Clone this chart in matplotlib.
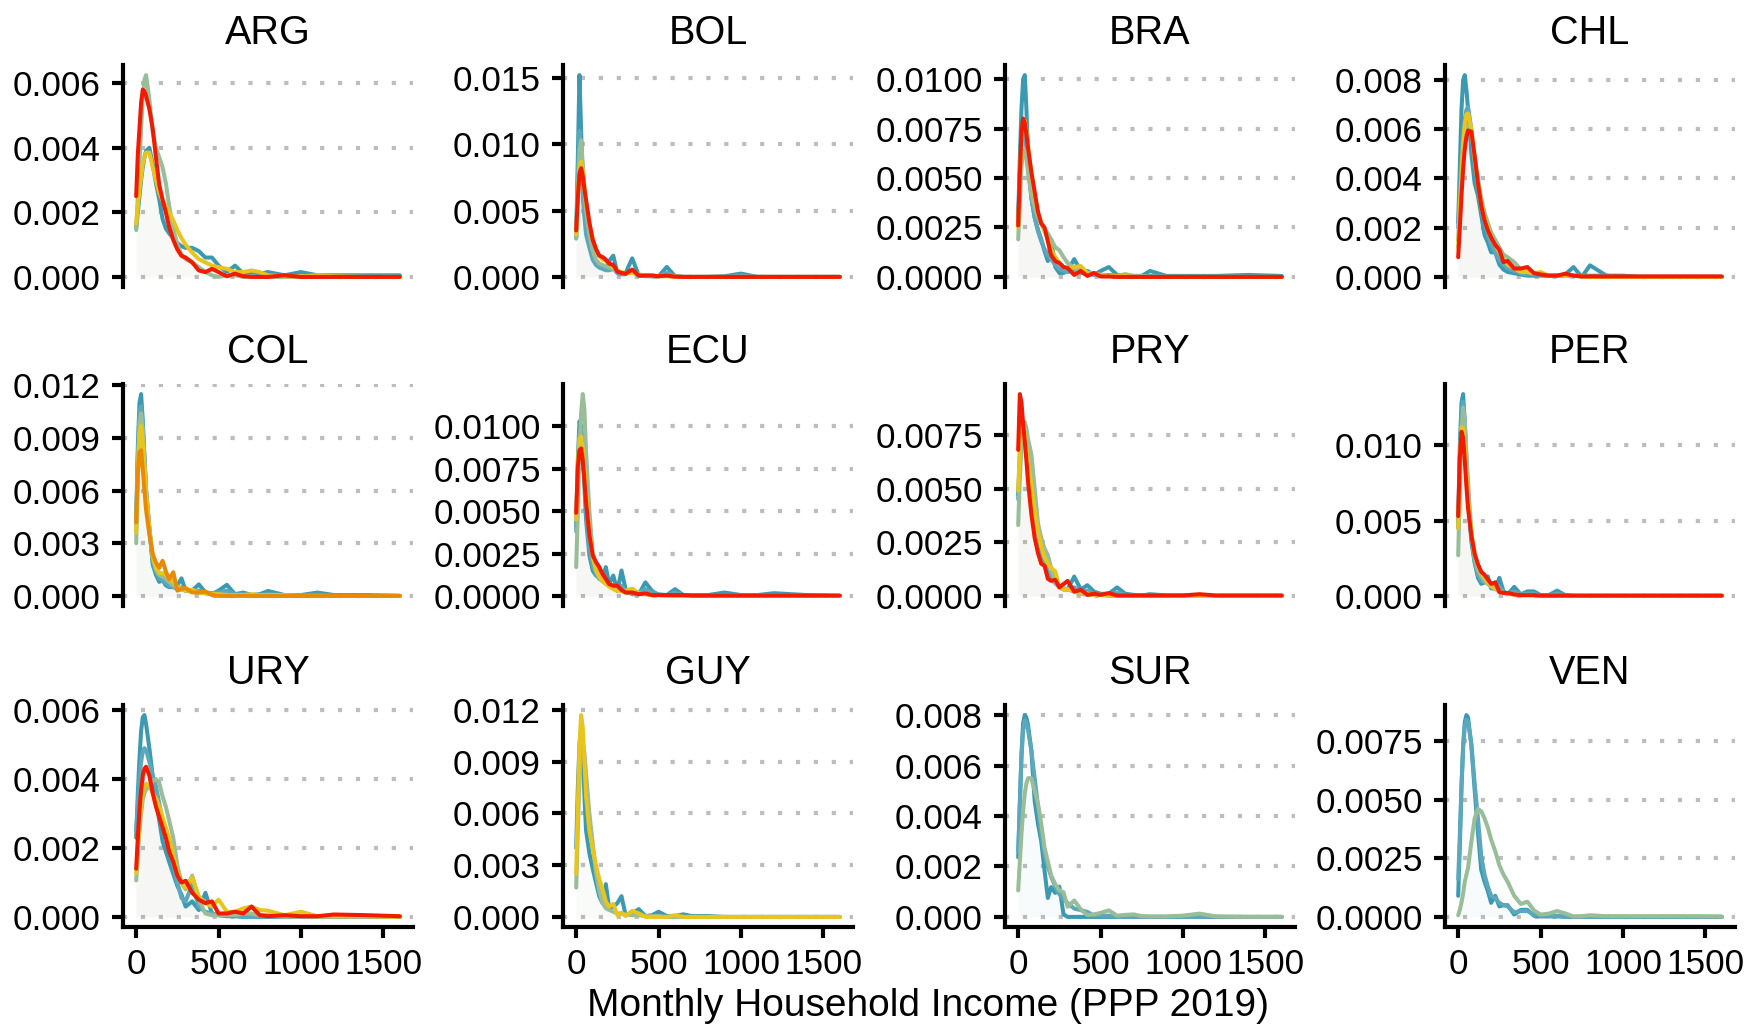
import numpy as np
import matplotlib
matplotlib.use("Agg")
import matplotlib.pyplot as plt

plt.rcParams["font.family"] = ["Liberation Sans", "DejaVu Sans"]

# income grid (PPP 2019) shared by every density curve
INCOME = [0, 10, 20, 30, 40, 50, 60, 80, 100, 120, 140, 160, 180, 200, 225, 250, 275,
          300, 340, 380, 420, 460, 500, 550, 600, 650, 700, 750, 800, 900, 1000, 1100,
          1200, 1400, 1600]

# densities, in units of 1e-3, oldest survey first
ARG = {
    "teal": [1.5, 2.0, 2.5, 3.0, 3.4, 3.7, 3.9, 4.0, 3.5, 2.9, 2.4, 1.8, 1.5, 1.35, 1.2, 1.05, 0.95, 0.9, 0.9, 0.8, 0.6, 0.6, 0.35, 0.15, 0.35, 0.1, 0.1, 0.1, 0.15, 0.05, 0.15, 0.05, 0.05, 0.05, 0.05],
    "green": [1.45, 2.5, 3.5, 4.6, 5.6, 6.1, 6.25, 5.5, 4.5, 4.0, 3.7, 3.4, 2.9, 2.2, 1.5, 1.0, 0.7, 0.55, 0.45, 0.3, 0.15, 0.05, 0.0, 0.05, 0.05, 0.0, 0.02, 0.0, 0.0, 0.0, 0.0, 0.0, 0.0, 0.0, 0.0],
    "yellow": [1.65, 2.2, 2.7, 3.1, 3.5, 3.7, 3.85, 3.85, 3.4, 3.0, 2.6, 2.35, 2.2, 2.0, 1.75, 1.45, 1.2, 1.0, 0.75, 0.55, 0.45, 0.35, 0.3, 0.25, 0.15, 0.15, 0.2, 0.15, 0.05, 0.02, 0.02, 0.05, 0.02, 0.0, 0.0],
    "red": [2.5, 3.8, 4.6, 5.4, 5.8, 5.75, 5.6, 5.2, 4.6, 3.7, 2.85, 2.4, 2.0, 1.55, 1.15, 0.85, 0.65, 0.6, 0.45, 0.2, 0.15, 0.25, 0.15, 0.02, 0.1, 0.02, 0.0, 0.0, 0.0, 0.05, 0.0, 0.0, 0.0, 0.0, 0.0],
}
BOL = {
    "teal": [2.9, 9.0, 15.2, 11.0, 6.8, 5.0, 3.8, 2.6, 1.6, 1.0, 0.8, 0.7, 0.6, 1.2, 1.6, 0.3, 0.2, 0.3, 1.4, 0.1, 0.1, 0.1, 0.05, 0.75, 0.05, 0.0, 0.0, 0.0, 0.0, 0.05, 0.25, 0.0, 0.0, 0.0, 0.0],
    "lightteal": [3.0, 7.5, 11.0, 9.5, 6.0, 4.5, 3.2, 2.2, 1.3, 0.9, 0.7, 0.6, 0.5, 0.5, 0.6, 0.3, 0.2, 0.2, 0.5, 0.1, 0.05, 0.05, 0.05, 0.3, 0.05, 0.0, 0.0, 0.0, 0.0, 0.0, 0.1, 0.0, 0.0, 0.0, 0.0],
    "green": [2.9, 6.5, 9.5, 10.3, 8.5, 6.5, 5.0, 3.2, 2.0, 1.3, 1.0, 0.9, 0.8, 0.7, 0.6, 0.4, 0.3, 0.3, 0.3, 0.15, 0.1, 0.05, 0.05, 0.1, 0.05, 0.0, 0.0, 0.0, 0.0, 0.0, 0.0, 0.0, 0.0, 0.0, 0.0],
    "yellow": [3.2, 6.0, 8.2, 8.7, 8.0, 6.8, 5.6, 4.0, 2.9, 2.1, 1.6, 1.3, 1.2, 1.0, 0.7, 0.5, 0.35, 0.3, 0.3, 0.2, 0.1, 0.1, 0.05, 0.05, 0.02, 0.0, 0.0, 0.0, 0.0, 0.0, 0.0, 0.0, 0.0, 0.0, 0.0],
    "red": [3.5, 6.0, 7.8, 8.2, 7.6, 6.6, 5.8, 4.1, 2.8, 2.1, 1.6, 1.5, 1.3, 1.0, 0.9, 0.4, 0.3, 0.25, 0.55, 0.1, 0.1, 0.1, 0.05, 0.1, 0.02, 0.0, 0.0, 0.0, 0.0, 0.0, 0.0, 0.0, 0.0, 0.0, 0.0],
}
BRA = {
    "teal": [3.1, 6.0, 8.5, 10.0, 10.2, 8.5, 6.2, 4.0, 3.0, 2.4, 1.9, 1.3, 0.8, 1.9, 0.5, 0.2, 0.2, 0.3, 0.9, 0.3, 0.3, 0.1, 0.3, 0.5, 0.1, 0.05, 0.05, 0.05, 0.3, 0.05, 0.05, 0.05, 0.05, 0.1, 0.05],
    "lightteal": [2.8, 5.0, 6.8, 7.5, 7.3, 6.5, 5.5, 4.0, 3.0, 2.3, 1.8, 1.4, 1.1, 0.9, 0.6, 0.4, 0.3, 0.25, 0.3, 0.2, 0.15, 0.1, 0.1, 0.1, 0.05, 0.05, 0.0, 0.0, 0.05, 0.0, 0.0, 0.0, 0.0, 0.0, 0.0],
    "green": [1.9, 3.8, 5.6, 6.3, 6.4, 6.0, 5.3, 4.2, 3.5, 3.0, 2.7, 2.4, 2.2, 1.9, 1.5, 1.35, 1.0, 0.7, 0.45, 0.3, 0.2, 0.15, 0.1, 0.05, 0.05, 0.14, 0.05, 0.05, 0.0, 0.0, 0.0, 0.0, 0.0, 0.0, 0.0],
    "yellow": [2.5, 5.0, 7.0, 7.8, 7.9, 7.4, 6.6, 5.2, 4.1, 3.2, 2.7, 2.3, 1.9, 1.4, 1.0, 0.7, 0.5, 0.45, 0.5, 0.55, 0.2, 0.15, 0.1, 0.05, 0.05, 0.05, 0.0, 0.0, 0.0, 0.0, 0.0, 0.0, 0.0, 0.0, 0.0],
    "red": [2.6, 5.2, 7.3, 8.0, 7.8, 7.2, 6.5, 5.3, 4.3, 3.3, 2.7, 2.5, 1.8, 1.1, 0.8, 0.7, 0.5, 0.45, 0.1, 0.3, 0.05, 0.2, 0.02, 0.02, 0.0, 0.0, 0.0, 0.0, 0.0, 0.0, 0.0, 0.0, 0.0, 0.0, 0.0],
}
CHL = {
    "teal": [2.2, 4.5, 6.8, 8.0, 8.2, 7.6, 6.8, 5.0, 3.8, 3.3, 2.5, 1.7, 1.4, 1.0, 1.0, 0.5, 0.3, 0.2, 0.15, 0.1, 0.05, 0.05, 0.05, 0.05, 0.05, 0.1, 0.4, 0.0, 0.47, 0.05, 0.05, 0.0, 0.0, 0.0, 0.0],
    "lightteal": [2.0, 3.5, 4.8, 5.8, 6.4, 6.8, 6.9, 6.0, 4.6, 3.6, 2.8, 2.2, 1.7, 1.3, 1.0, 0.7, 0.5, 0.35, 0.25, 0.15, 0.1, 0.1, 0.1, 0.05, 0.05, 0.05, 0.05, 0.05, 0.05, 0.05, 0.0, 0.0, 0.0, 0.0, 0.0],
    "green": [1.5, 2.8, 4.0, 5.0, 5.7, 6.1, 6.2, 5.8, 4.9, 4.0, 3.2, 2.6, 2.2, 1.8, 1.5, 1.2, 0.9, 0.8, 0.6, 0.3, 0.2, 0.15, 0.1, 0.05, 0.05, 0.05, 0.05, 0.02, 0.0, 0.0, 0.0, 0.0, 0.0, 0.0, 0.0],
    "yellow": [1.2, 2.8, 4.2, 5.4, 6.2, 6.6, 6.65, 6.0, 4.8, 3.8, 3.0, 2.4, 2.0, 1.6, 1.3, 1.0, 0.7, 0.5, 0.35, 0.2, 0.2, 0.15, 0.2, 0.05, 0.05, 0.05, 0.05, 0.02, 0.0, 0.0, 0.0, 0.0, 0.0, 0.0, 0.0],
    "red": [0.8, 2.0, 3.3, 4.4, 5.2, 5.7, 5.95, 5.9, 4.9, 3.8, 2.9, 2.3, 1.9, 1.6, 1.3, 1.1, 0.6, 0.65, 0.34, 0.34, 0.4, 0.15, 0.1, 0.05, 0.05, 0.13, 0.05, 0.02, 0.02, 0.02, 0.02, 0.02, 0.02, 0.02, 0.02],
}
COL = {
    "teal": [4.5, 8.5, 11.0, 11.5, 10.0, 8.0, 6.0, 3.9, 1.8, 1.2, 0.8, 0.9, 0.6, 0.5, 0.5, 0.6, 1.0, 0.3, 0.3, 0.66, 0.2, 0.1, 0.3, 0.63, 0.1, 0.19, 0.05, 0.1, 0.28, 0.05, 0.05, 0.19, 0.05, 0.05, 0.0],
    "lightteal": [4.0, 8.0, 10.5, 10.8, 9.5, 7.8, 6.0, 3.8, 2.0, 1.4, 1.0, 0.9, 0.7, 0.6, 0.5, 0.4, 0.5, 0.3, 0.25, 0.3, 0.2, 0.15, 0.2, 0.3, 0.1, 0.1, 0.05, 0.05, 0.1, 0.05, 0.05, 0.05, 0.0, 0.0, 0.0],
    "green": [3.0, 7.0, 9.8, 10.4, 9.5, 7.8, 6.0, 3.8, 2.2, 1.5, 1.2, 1.1, 1.0, 0.8, 0.6, 0.45, 0.35, 0.3, 0.25, 0.2, 0.15, 0.1, 0.05, 0.05, 0.05, 0.05, 0.0, 0.0, 0.0, 0.0, 0.0, 0.0, 0.0, 0.0, 0.0],
    "yellow": [3.6, 7.2, 9.3, 9.7, 8.8, 7.4, 5.8, 3.8, 2.3, 1.6, 1.3, 1.3, 1.2, 1.0, 0.8, 0.55, 0.4, 0.3, 0.35, 0.2, 0.15, 0.1, 0.1, 0.05, 0.05, 0.05, 0.1, 0.05, 0.05, 0.05, 0.0, 0.0, 0.0, 0.0, 0.0],
    "orange": [4.2, 7.0, 8.2, 8.3, 7.2, 6.0, 4.9, 3.5, 2.4, 1.9, 1.6, 2.0, 1.4, 0.95, 1.35, 0.3, 0.4, 0.45, 0.2, 0.2, 0.25, 0.05, 0.0, 0.0, 0.0, 0.0, 0.0, 0.0, 0.0, 0.0, 0.0, 0.0, 0.0, 0.0, 0.0],
}
ECU = {
    "teal": [4.1, 8.0, 10.3, 10.0, 8.5, 6.5, 4.5, 2.4, 1.5, 1.2, 1.1, 1.0, 1.7, 0.7, 1.2, 0.3, 1.5, 0.4, 0.1, 0.1, 0.8, 0.3, 0.05, 0.05, 0.4, 0.05, 0.05, 0.05, 0.05, 0.2, 0.05, 0.05, 0.16, 0.05, 0.0],
    "lightteal": [3.8, 7.2, 9.5, 9.8, 8.8, 7.0, 5.0, 2.8, 1.8, 1.3, 1.0, 0.9, 0.9, 0.6, 0.6, 0.4, 0.6, 0.3, 0.2, 0.2, 0.4, 0.2, 0.1, 0.05, 0.2, 0.05, 0.05, 0.05, 0.05, 0.05, 0.05, 0.05, 0.05, 0.0, 0.0],
    "green": [1.7, 5.0, 8.5, 10.8, 11.9, 11.0, 8.5, 5.0, 2.6, 1.7, 1.3, 1.0, 0.8, 0.7, 0.5, 0.4, 0.3, 0.2, 0.15, 0.1, 0.1, 0.05, 0.05, 0.05, 0.0, 0.0, 0.0, 0.0, 0.0, 0.0, 0.0, 0.0, 0.0, 0.0, 0.0],
    "yellow": [4.5, 7.8, 9.3, 9.4, 8.6, 7.4, 6.1, 3.8, 2.3, 1.5, 1.1, 0.85, 0.7, 0.55, 0.4, 0.3, 0.3, 0.3, 0.43, 0.15, 0.1, 0.05, 0.05, 0.0, 0.0, 0.0, 0.0, 0.0, 0.0, 0.0, 0.0, 0.0, 0.0, 0.0, 0.0],
    "red": [4.9, 7.6, 8.6, 8.7, 8.0, 6.8, 5.5, 3.6, 2.4, 2.0, 1.7, 1.3, 1.0, 0.7, 0.6, 0.6, 0.35, 0.2, 0.2, 0.1, 0.15, 0.05, 0.05, 0.05, 0.05, 0.05, 0.02, 0.02, 0.02, 0.02, 0.02, 0.02, 0.02, 0.02, 0.02],
}
PRY = {
    "teal": [4.7, 6.5, 7.6, 8.0, 8.0, 7.6, 7.0, 5.8, 4.2, 3.0, 2.1, 1.5, 1.1, 0.8, 0.6, 0.4, 0.3, 0.3, 0.9, 0.3, 0.5, 0.2, 0.1, 0.1, 0.4, 0.1, 0.05, 0.02, 0.08, 0.02, 0.02, 0.02, 0.0, 0.0, 0.0],
    "lightteal": [4.5, 6.2, 7.3, 7.8, 7.7, 7.4, 6.8, 5.5, 4.0, 2.9, 2.1, 1.5, 1.1, 0.8, 0.6, 0.45, 0.35, 0.3, 0.4, 0.2, 0.25, 0.1, 0.05, 0.05, 0.15, 0.05, 0.02, 0.02, 0.02, 0.0, 0.0, 0.0, 0.0, 0.0, 0.0],
    "green": [3.3, 5.5, 7.0, 7.8, 8.1, 7.8, 7.3, 6.6, 5.0, 3.4, 2.7, 2.2, 1.9, 1.3, 0.6, 0.45, 0.35, 0.3, 0.2, 0.1, 0.05, 0.05, 0.05, 0.0, 0.0, 0.0, 0.0, 0.0, 0.0, 0.0, 0.0, 0.0, 0.0, 0.0, 0.0],
    "yellow": [4.9, 6.9, 7.7, 7.85, 7.5, 6.9, 6.3, 5.2, 4.0, 3.0, 2.3, 1.8, 1.5, 1.3, 1.15, 0.4, 0.3, 0.3, 0.25, 0.15, 0.1, 0.05, 0.05, 0.05, 0.0, 0.0, 0.0, 0.0, 0.0, 0.0, 0.0, 0.0, 0.0, 0.0, 0.0],
    "red": [6.8, 9.4, 9.0, 8.0, 7.2, 6.3, 5.3, 3.8, 2.7, 2.0, 1.5, 1.4, 0.8, 0.7, 0.75, 0.4, 0.55, 0.7, 0.2, 0.28, 0.05, 0.1, 0.05, 0.13, 0.02, 0.02, 0.02, 0.02, 0.02, 0.02, 0.02, 0.08, 0.02, 0.02, 0.02],
}
PER = {
    "teal": [5.0, 10.0, 12.8, 13.4, 11.5, 8.8, 6.5, 3.6, 2.2, 1.2, 0.8, 0.9, 1.3, 0.5, 0.5, 1.2, 0.3, 0.1, 0.6, 0.1, 0.3, 0.3, 0.05, 0.05, 0.35, 0.05, 0.0, 0.0, 0.0, 0.0, 0.0, 0.0, 0.0, 0.0, 0.0],
    "lightteal": [4.5, 9.0, 12.0, 12.9, 11.5, 9.0, 6.8, 3.8, 2.3, 1.4, 1.0, 0.9, 0.9, 0.6, 0.5, 0.6, 0.3, 0.15, 0.3, 0.1, 0.15, 0.15, 0.05, 0.05, 0.15, 0.05, 0.0, 0.0, 0.0, 0.0, 0.0, 0.0, 0.0, 0.0, 0.0],
    "green": [2.7, 7.0, 10.8, 12.5, 11.5, 9.5, 7.5, 4.2, 2.5, 1.7, 1.3, 1.0, 0.8, 0.6, 0.45, 0.3, 0.2, 0.15, 0.1, 0.05, 0.05, 0.05, 0.0, 0.0, 0.0, 0.0, 0.0, 0.0, 0.0, 0.0, 0.0, 0.0, 0.0, 0.0, 0.0],
    "yellow": [4.5, 9.0, 11.2, 11.1, 9.8, 8.0, 6.5, 4.2, 2.8, 2.0, 1.5, 1.2, 0.9, 0.7, 0.5, 0.3, 0.2, 0.15, 0.1, 0.05, 0.05, 0.05, 0.0, 0.0, 0.0, 0.0, 0.0, 0.0, 0.0, 0.0, 0.0, 0.0, 0.0, 0.0, 0.0],
    "red": [5.3, 9.2, 10.9, 10.5, 9.0, 7.3, 5.8, 4.0, 2.8, 2.1, 1.6, 1.4, 1.1, 0.8, 0.9, 0.25, 0.2, 0.2, 0.1, 0.05, 0.05, 0.05, 0.02, 0.02, 0.02, 0.02, 0.02, 0.02, 0.02, 0.02, 0.02, 0.02, 0.02, 0.02, 0.02],
}
URY = {
    "teal": [2.3, 3.6, 4.6, 5.4, 5.8, 5.86, 5.6, 4.9, 4.1, 3.4, 2.8, 2.2, 1.9, 1.6, 1.25, 0.9, 0.65, 0.3, 0.45, 0.2, 0.7, 0.1, 0.05, 0.02, 0.02, 0.0, 0.0, 0.0, 0.0, 0.0, 0.0, 0.0, 0.0, 0.0, 0.0],
    "lightteal": [2.5, 3.3, 4.0, 4.5, 4.8, 4.9, 4.85, 4.5, 4.1, 3.8, 3.3, 2.8, 2.4, 2.0, 1.5, 1.0, 0.55, 0.45, 0.95, 0.3, 0.15, 0.1, 0.05, 0.05, 0.05, 0.0, 0.0, 0.0, 0.0, 0.0, 0.0, 0.0, 0.0, 0.0, 0.0],
    "green": [1.06, 1.8, 2.5, 3.0, 3.4, 3.6, 3.7, 3.8, 3.95, 4.0, 3.9, 3.5, 3.2, 2.8, 2.3, 1.5, 1.0, 0.8, 1.2, 0.5, 0.1, 0.05, 0.05, 0.05, 0.05, 0.1, 0.1, 0.05, 0.05, 0.0, 0.0, 0.0, 0.0, 0.0, 0.0],
    "yellow": [1.26, 2.0, 2.7, 3.2, 3.6, 3.8, 3.87, 3.8, 3.6, 3.45, 3.2, 2.9, 2.6, 2.3, 1.8, 1.3, 1.0, 0.85, 1.15, 0.6, 0.4, 0.3, 0.5, 0.15, 0.15, 0.25, 0.3, 0.2, 0.18, 0.05, 0.15, 0.02, 0.02, 0.02, 0.0],
    "red": [1.4, 2.3, 3.1, 3.7, 4.1, 4.3, 4.36, 4.1, 3.6, 3.2, 2.9, 2.6, 2.3, 1.9, 1.6, 1.2, 1.0, 1.05, 0.7, 0.5, 0.4, 0.45, 0.1, 0.1, 0.15, 0.1, 0.3, 0.05, 0.02, 0.05, 0.02, 0.02, 0.07, 0.05, 0.02],
}
GUY = {
    "teal": [4.0, 7.5, 10.0, 10.9, 9.5, 7.0, 5.0, 3.7, 2.8, 2.0, 1.2, 0.8, 1.9, 0.5, 0.6, 0.8, 1.2, 0.1, 0.2, 0.45, 0.05, 0.1, 0.3, 0.05, 0.05, 0.15, 0.05, 0.05, 0.05, 0.0, 0.0, 0.0, 0.0, 0.0, 0.0],
    "green": [1.7, 5.0, 8.0, 9.7, 10.1, 9.5, 8.3, 6.0, 4.3, 2.6, 1.5, 0.8, 0.5, 0.4, 0.3, 0.2, 0.2, 0.15, 0.1, 0.1, 0.05, 0.05, 0.05, 0.0, 0.0, 0.0, 0.0, 0.0, 0.0, 0.0, 0.0, 0.0, 0.0, 0.0, 0.0],
    "yellow": [2.5, 6.5, 10.0, 11.7, 11.0, 9.0, 7.0, 5.0, 4.0, 3.0, 2.2, 1.6, 0.9, 0.6, 0.75, 0.1, 0.25, 0.05, 0.35, 0.2, 0.0, 0.0, 0.0, 0.0, 0.1, 0.0, 0.0, 0.0, 0.0, 0.0, 0.0, 0.0, 0.0, 0.0, 0.0],
}
SUR = {
    "teal": [2.36, 4.5, 6.5, 7.7, 8.0, 7.9, 7.6, 6.6, 4.6, 3.7, 3.0, 1.84, 0.75, 1.18, 0.95, 1.2, 0.1, 0.0, 0.0, 0.0, 0.0, 0.0, 0.0, 0.0, 0.0, 0.0, 0.0, 0.0, 0.0, 0.0, 0.0, 0.0, 0.0, 0.0, 0.0],
    "lightteal": [2.6, 4.5, 6.3, 7.4, 7.8, 7.7, 7.4, 6.6, 5.5, 4.4, 3.3, 2.5, 2.0, 1.6, 1.2, 0.9, 0.7, 0.55, 0.33, 0.27, 0.2, 0.05, 0.05, 0.05, 0.0, 0.0, 0.0, 0.0, 0.0, 0.0, 0.0, 0.0, 0.0, 0.0, 0.0],
    "green": [1.05, 2.2, 3.3, 4.2, 4.9, 5.3, 5.5, 5.5, 5.0, 4.5, 3.7, 2.75, 2.2, 1.64, 1.3, 1.05, 0.98, 0.4, 0.65, 0.3, 0.07, 0.1, 0.16, 0.26, 0.05, 0.08, 0.1, 0.03, 0.02, 0.02, 0.05, 0.13, 0.02, 0.0, 0.0],
}
VEN = {
    "teal": [0.9, 3.0, 5.5, 7.3, 8.3, 8.6, 8.5, 7.3, 5.4, 3.6, 2.0, 1.5, 1.1, 0.6, 0.9, 0.45, 0.5, 0.5, 0.1, 0.3, 0.3, 0.05, 0.02, 0.02, 0.02, 0.0, 0.0, 0.0, 0.0, 0.0, 0.0, 0.0, 0.0, 0.0, 0.0],
    "lightteal": [1.6, 3.5, 5.6, 7.2, 8.1, 8.4, 8.3, 7.4, 5.7, 4.2, 2.6, 1.8, 1.3, 0.9, 0.8, 0.6, 0.5, 0.45, 0.2, 0.25, 0.25, 0.1, 0.05, 0.05, 0.05, 0.02, 0.0, 0.0, 0.0, 0.0, 0.0, 0.0, 0.0, 0.0, 0.0],
    "green": [0.07, 0.3, 0.6, 1.0, 1.5, 1.8, 2.1, 3.2, 4.2, 4.6, 4.5, 4.2, 3.8, 3.3, 2.8, 2.2, 1.8, 1.5, 0.9, 0.55, 0.65, 0.28, 0.1, 0.14, 0.25, 0.15, 0.02, 0.03, 0.07, 0.03, 0.03, 0.03, 0.03, 0.03, 0.02],
}

COUNTRIES = ["ARG", "BOL", "BRA", "CHL", "COL", "ECU", "PRY", "PER", "URY", "GUY", "SUR", "VEN"]
PANELS = [ARG, BOL, BRA, CHL, COL, ECU, PRY, PER, URY, GUY, SUR, VEN]

# y tick step and label decimals per panel
Y_STEP = [0.002, 0.005, 0.0025, 0.002, 0.003, 0.0025, 0.0025, 0.005, 0.002, 0.003, 0.002, 0.0025]
Y_DIGITS = [3, 3, 4, 3, 3, 4, 4, 3, 3, 3, 3, 4]

X_TICKS = [0, 500, 1000, 1500]

SERIES_ORDER = ["teal", "lightteal", "green", "yellow", "orange", "red"]
COLORS = {
    "teal": "#3B9AB2",
    "lightteal": "#5BA8BC",
    "green": "#98BD98",
    "yellow": "#E8C41E",
    "orange": "#E88A06",
    "red": "#F21A00",
}

W, H = 1764, 1029
COL_LEFT = [123, 563, 1005, 1445]
ROW_TOP = [65, 384, 705]
PANEL_W, PANEL_H = 290, 222

fig = plt.figure(figsize=(W / 100, H / 100), dpi=100)
x = np.array(INCOME)

for i, (code, panel) in enumerate(zip(COUNTRIES, PANELS)):
    r, c = divmod(i, 4)
    ax = fig.add_axes([COL_LEFT[c] / W, 1 - (ROW_TOP[r] + PANEL_H) / H, PANEL_W / W, PANEL_H / H])

    top = 0.0
    for key in SERIES_ORDER:
        if key not in panel:
            continue
        y = np.array(panel[key]) * 1e-3
        top = max(top, y.max())
        ax.fill_between(x, 0, y, color=COLORS[key], alpha=0.012, lw=0, zorder=1)
        ax.plot(x, y, color=COLORS[key], lw=2.9, solid_capstyle="round",
                solid_joinstyle="round", zorder=3)

    ax.set_xlim(-80, 1680)
    ax.set_ylim(-0.05 * top, 1.05 * top)
    ticks = np.arange(0, 1.05 * top + 1e-9, Y_STEP[i])
    ax.set_yticks(ticks)
    ax.set_yticklabels([f"{t:.{Y_DIGITS[i]}f}" for t in ticks])
    for t in ticks:
        ax.axhline(t, color="#BDBDBD", lw=3.0, dashes=(1, 3.3), dash_capstyle="butt", zorder=0)

    ax.set_title(code, fontsize=28.5, pad=15)
    for s in ["top", "right"]:
        ax.spines[s].set_visible(False)
    ax.spines["left"].set_linewidth(3.0)
    ax.tick_params(axis="y", length=8, width=3.0, labelsize=25.3, pad=8)
    if r == 2:
        ax.spines["bottom"].set_linewidth(3.0)
        ax.set_xticks(X_TICKS)
        ax.tick_params(axis="x", length=8, width=3.0, labelsize=25.3, pad=7)
    else:
        ax.spines["bottom"].set_visible(False)
        ax.set_xticks([])

fig.text(928 / W, 1 - 1006 / H, "Monthly Household Income (PPP 2019)", ha="center", va="center", fontsize=28)

fig.savefig("out.png", dpi=100)
